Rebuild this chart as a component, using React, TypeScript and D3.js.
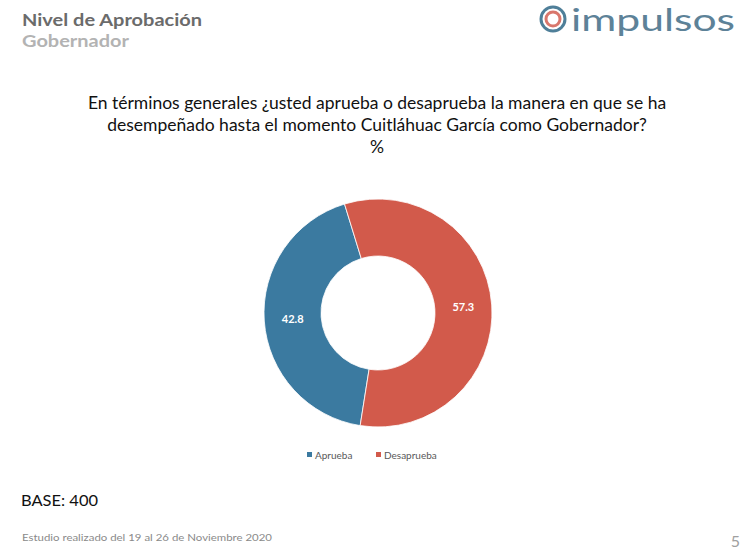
import { useEffect, useRef } from 'react';
import * as d3 from 'd3';

const categories = ['Aprueba', 'Desaprueba'];
const values = [42.8, 57.3];
const colors = ['#3b7aa0', '#d25a4b'];

const questionLines = [
  'En términos generales ¿usted aprueba o desaprueba la manera en que se ha',
  'desempeñado hasta el momento Cuitláhuac García como Gobernador?',
  '%',
];

export default function App() {
  const ref = useRef<SVGSVGElement>(null);

  useEffect(() => {
    if (!ref.current) return;
    const svg = d3.select(ref.current);
    svg.selectAll('*').remove();

    const W = 750, H = 556;
    svg.append('rect').attr('width', W).attr('height', H).attr('fill', '#ffffff');

    const font = "'Lato', 'DejaVu Sans', sans-serif";

    // header
    svg.append('text')
      .attr('x', 22).attr('y', 26)
      .attr('font-family', font).attr('font-weight', 'bold').attr('font-size', 17)
      .attr('textLength', 180).attr('lengthAdjust', 'spacingAndGlyphs')
      .attr('fill', '#6b6b6b').text('Nivel de Aprobación');
    svg.append('text')
      .attr('x', 22).attr('y', 47)
      .attr('font-family', font).attr('font-weight', 'bold').attr('font-size', 17)
      .attr('textLength', 107).attr('lengthAdjust', 'spacingAndGlyphs')
      .attr('fill', '#b3b3b3').text('Gobernador');

    // logo
    const logo = svg.append('g').attr('transform', 'translate(553,19)');
    logo.append('circle').attr('r', 12).attr('fill', 'none').attr('stroke', '#4f7f99').attr('stroke-width', 3);
    logo.append('circle').attr('r', 7).attr('fill', 'none').attr('stroke', '#d9776c').attr('stroke-width', 3);
    svg.append('text')
      .attr('x', 571).attr('y', 31)
      .attr('font-family', font).attr('font-size', 30)
      .attr('textLength', 164).attr('lengthAdjust', 'spacingAndGlyphs')
      .attr('fill', '#5d8298').text('impulsos');

    // question
    svg.append('g').selectAll('text')
      .data(questionLines)
      .enter().append('text')
      .attr('x', 377)
      .attr('y', (_d: string, i: number) => 109 + i * 22)
      .attr('text-anchor', 'middle')
      .attr('font-family', font).attr('font-size', 17.5)
      .attr('fill', '#111111')
      .text((d: string) => d);

    // donut
    const cx = 378, cy = 313, outerR = 114, innerR = 57;
    const start = (189 * Math.PI) / 180;
    const pie = d3.pie<number>().sort(null).startAngle(start).endAngle(start + 2 * Math.PI);
    const arcs = pie(values);
    const arc = d3.arc<d3.PieArcDatum<number>>().innerRadius(innerR).outerRadius(outerR);
    const g = svg.append('g').attr('transform', `translate(${cx},${cy})`);

    g.selectAll('path')
      .data(arcs)
      .enter().append('path')
      .attr('d', arc as any)
      .attr('fill', (_d: any, i: number) => colors[i])
      .attr('stroke', '#ffffff').attr('stroke-width', 0.8);

    g.selectAll('text.lbl')
      .data(arcs)
      .enter().append('text')
      .attr('class', 'lbl')
      .attr('transform', (d: any) => `translate(${arc.centroid(d)})`)
      .attr('text-anchor', 'middle').attr('dy', '0.35em')
      .attr('font-family', font).attr('font-weight', 'bold').attr('font-size', 11)
      .attr('fill', '#ffffff')
      .text((d: any) => d.data.toFixed(1));

    // legend
    const legendX = [307, 376];
    const leg = svg.append('g').selectAll('g')
      .data(categories)
      .enter().append('g')
      .attr('transform', (_d: string, i: number) => `translate(${legendX[i]},455)`);
    leg.append('rect')
      .attr('x', 0).attr('y', -3).attr('width', 5).attr('height', 5)
      .attr('fill', (_d: string, i: number) => colors[i]);
    leg.append('text')
      .attr('x', 8).attr('y', 3.5)
      .attr('font-family', font).attr('font-size', 10)
      .attr('fill', '#595959')
      .text((d: string) => d);

    // footer
    svg.append('text')
      .attr('x', 21).attr('y', 506)
      .attr('font-family', font).attr('font-size', 16)
      .attr('textLength', 77).attr('lengthAdjust', 'spacingAndGlyphs')
      .attr('fill', '#111111').text('BASE: 400');
    svg.append('text')
      .attr('x', 22).attr('y', 541)
      .attr('font-family', font).attr('font-size', 10)
      .attr('textLength', 250).attr('lengthAdjust', 'spacingAndGlyphs')
      .attr('fill', '#8a8a8a').text('Estudio realizado del 19 al 26 de Noviembre 2020');
    svg.append('text')
      .attr('x', 740).attr('y', 547).attr('text-anchor', 'end')
      .attr('font-family', font).attr('font-size', 16)
      .attr('fill', '#a0a0a0').text('5');
  }, []);

  return (
    <svg
      ref={ref}
      width={750}
      height={556}
      style={{ position: 'absolute', left: 0, top: 0, display: 'block' }}
    />
  );
}
